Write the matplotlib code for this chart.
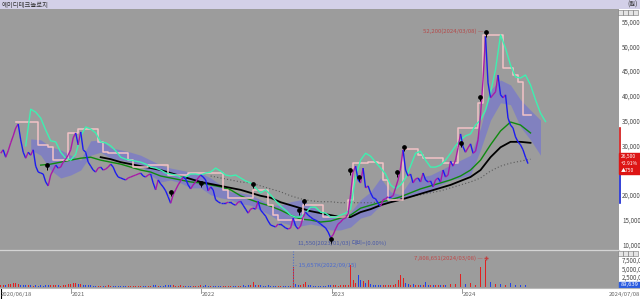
import matplotlib
matplotlib.use('Agg')
import matplotlib.pyplot as plt
import matplotlib.dates as mdates
import numpy as np
import pandas as pd
from matplotlib.collections import LineCollection
from matplotlib.patches import Rectangle
from matplotlib.transforms import blended_transform_factory as btf

plt.rcParams['font.family'] = ['Noto Sans CJK KR', 'DejaVu Sans']

# ---------------- data ----------------
stock_name = '에이디테크놀로지'
unit_label = '(원)'

# weekly closes (thousand KRW), starting 2020-06-18
close_k = [28.6, 29.3, 27.8, 29.1, 30.7, 32.1, 33.7, 34.5, 31.3, 28.8, 27.6,
           28.8, 28.2, 29.3, 26.0, 24.8, 24.6, 24.4, 22.8, 22.0, 24.2,
           25.2, 26.2, 25.6, 25.8, 26.8, 27.4, 28.2, 29.3, 31.7, 32.7,
           30.3, 32.9, 29.3, 28.8, 26.8, 26.0, 25.2, 24.8, 25.6, 25.8,
           25.2, 25.4, 25.8, 26.4, 25.8, 24.6, 23.8, 23.6, 23.4, 23.2,
           23.6, 23.8, 24.0, 24.2, 24.4, 24.6, 24.0, 23.8, 24.2, 24.4,
           22.6, 21.2, 23.2, 22.4, 21.8, 21.0, 19.8, 18.5, 20.2, 21.2,
           22.2, 23.0, 23.8, 23.4, 22.2, 21.4, 22.2, 22.8, 23.6, 24.2,
           23.8, 23.2, 21.0, 21.8, 21.2, 19.2, 18.8, 18.5, 18.5, 18.5,
           18.7, 18.7, 18.3, 18.1, 18.7, 18.9, 18.1, 17.3, 16.5, 17.3,
           17.5, 17.3, 18.9, 17.1, 16.5, 15.9, 14.9, 14.1, 13.9, 13.7,
           14.3, 14.3, 13.9, 13.5, 13.3, 13.5, 15.5, 13.9, 13.3, 13.9,
           15.7, 16.7, 16.1, 15.7, 15.3, 15.1, 14.7, 14.3, 13.9, 13.5,
           12.7, 11.55, 12.1, 13.3, 14.3, 14.7, 15.3, 15.5, 16.3, 20.2,
           24.8, 26.0, 23.2, 22.6, 25.6, 21.6, 22.0, 20.6, 19.6, 19.4,
           18.5, 17.9, 19.2, 19.4, 19.8, 19.8, 20.0, 21.6, 23.2, 25.6,
           29.3, 25.2, 24.0, 24.4, 22.6, 23.4, 23.6, 22.8, 24.6, 23.2,
           22.8, 23.0, 21.8, 23.2, 23.6, 22.8, 25.2, 23.8, 24.2, 27.0,
           26.0, 27.2, 29.7, 32.5, 29.9, 28.8, 29.7, 30.5, 28.6, 29.0,
           31.3, 36.3, 43.4, 52.2, 42.8, 39.8, 40.4, 41.0, 44.4, 40.4,
           39.8, 40.4, 35.7, 34.3, 33.7, 31.9, 30.9, 30.3, 29.3, 27.8, 26.5]

# weekly volume (thousand shares)
volume_k = [400, 300, 350, 600, 800, 900, 1100, 700, 500, 400, 300,
            300, 350, 250, 300, 250, 300, 250, 500, 400, 350,
            300, 350, 300, 250, 300, 400, 800, 700, 900, 1000,
            800, 600, 500, 400, 300, 300, 250, 250, 200, 250,
            200, 250, 300, 250, 200, 200, 200, 250, 200, 200,
            200, 250, 200, 200, 200, 250, 200, 200, 200, 250,
            300, 350, 250, 250, 200, 300, 400, 500, 300, 250,
            250, 300, 250, 200, 200, 250, 200, 200, 250, 300,
            250, 300, 250, 200, 250, 200, 200, 200, 200, 200,
            200, 200, 250, 200, 200, 250, 300, 250, 300, 350,
            1400, 300, 350, 300, 250, 250, 300, 250, 200, 200,
            200, 250, 200, 200, 250, 250, 5800, 600, 400, 350,
            800, 1400, 400, 300, 250, 250, 200, 250, 200, 250,
            300, 400, 350, 300, 250, 300, 300, 350, 500, 6300,
            1900, 900, 3400, 2000, 1500, 900, 2000, 700, 500, 400,
            400, 350, 300, 300, 350, 400, 500, 700, 1900, 3400,
            2500, 1000, 700, 500, 600, 450, 400, 500, 450, 1400,
            500, 400, 350, 400, 350, 300, 350, 500, 1100, 700,
            500, 600, 800, 3600, 1200, 700, 600, 1100, 500, 450,
            600, 5800, 2500, 7809, 2900, 1400, 900, 800, 700, 600,
            500, 450, 500, 1000, 600, 500, 400, 400, 350, 300, 300]

# mint line (biweekly, from 2020-08-27)
mint_k = [30.1, 37.5, 36.9, 35.7, 33.3, 31.1, 30.9, 28.8, 27.6, 27.2,
          28.4, 32.1, 33.9, 33.5, 32.7, 30.9, 30.7, 30.1, 29.1, 27.8,
          27.4, 27.2, 27.0, 26.8, 26.4, 25.8, 25.6, 25.2, 24.6, 24.4,
          24.2, 23.8, 23.8, 24.4, 24.4, 24.2, 24.6, 24.8, 25.6, 25.0,
          24.2, 24.0, 24.2, 23.6, 23.0, 22.6, 21.6, 20.6, 21.2, 20.2,
          19.0, 17.9, 17.1, 16.1, 15.7, 15.7, 16.5, 17.7, 17.7, 16.7,
          16.5, 15.7, 15.7, 16.1, 16.5, 17.3, 23.8, 27.2, 28.6, 28.0,
          26.8, 25.6, 24.4, 22.2, 21.4, 22.2, 23.6, 26.0, 28.6, 29.0,
          27.2, 25.8, 25.8, 26.2, 27.2, 28.6, 30.1, 31.3, 32.1, 32.5,
          34.3, 35.3, 37.3, 40.8, 45.5, 52.5, 49.8, 46.4, 44.0, 43.8,
          44.4, 42.4, 39.4, 36.7, 35.0]

# pink step line (biweekly, from 2020-07-30)
pink_k = [34.9, 34.9, 34.9, 34.9, 34.9, 30.3, 30.3, 29.9, 27.2, 27.2,
          27.2, 32.7, 32.7, 33.5, 33.5, 33.5, 33.5, 30.9, 28.8, 28.6,
          28.6, 28.6, 28.6, 27.2, 25.8, 25.8, 25.8, 26.2, 26.2, 26.2,
          26.2, 24.2, 24.2, 24.2, 24.2, 24.6, 24.6, 24.6, 24.6, 24.6,
          24.6, 24.6, 21.2, 19.6, 19.6, 19.6, 19.6, 19.6, 21.2, 21.2,
          21.2, 18.1, 16.1, 15.1, 15.1, 15.1, 15.1, 15.1, 18.1, 18.1,
          18.1, 18.1, 15.7, 15.7, 15.7, 15.7, 15.7, 19.2, 26.6, 26.6,
          26.6, 26.8, 26.8, 26.6, 23.2, 19.2, 19.2, 19.2, 29.4, 29.4,
          29.4, 28.2, 27.6, 27.6, 27.6, 27.6, 26.6, 26.6, 26.6, 33.7,
          33.7, 33.7, 33.7, 38.7, 52.5, 52.5, 52.5, 52.5, 45.9, 45.9,
          44.4, 43.0, 36.3, 36.3]

# moving averages (every 4 weeks)
ma_green_k = [26.2, 26.4, 26.8, 27.2, 27.6, 27.8, 27.2, 26.8, 26.4, 25.8,
              25.2, 24.8, 24.0, 23.6, 23.2, 22.8, 22.6, 22.2, 21.8, 21.2,
              20.0, 19.2, 18.5, 17.9, 17.1, 16.1, 15.3, 15.1, 14.7, 14.9,
              15.5, 16.1, 17.5, 18.1, 18.7, 19.2, 19.8, 20.6, 21.4, 22.0,
              22.6, 23.2, 24.0, 25.2, 27.2, 30.3, 33.1, 34.9, 34.3, 32.7]
ma_black_k = [27.8, 27.4, 26.8, 26.4, 26.0, 25.6, 25.2, 24.6, 24.0, 23.4,
              22.8, 22.4, 22.0, 21.6, 21.2, 20.6, 20.0, 19.6, 18.7, 18.1,
              17.5, 16.9, 16.5, 16.1, 15.7, 15.7, 16.7, 17.3, 18.1, 18.7,
              19.2, 19.8, 20.4, 21.0, 21.6, 22.2, 23.0, 23.8, 25.2, 27.8,
              29.8, 30.9, 30.9, 30.7]
ma_gray_k = [24.0, 23.6, 23.2, 22.8, 22.6, 22.0, 21.4, 20.8, 20.0, 19.4,
             19.0, 18.8, 18.8, 18.6, 18.6, 18.6, 18.6, 18.8, 19.0, 19.4,
             19.8, 20.2, 20.6, 21.0, 21.6, 22.2, 22.8, 23.6, 25.0, 26.0,
             26.6, 27.0, 27.4]

# cloud band (every 4 weeks, from 2020-09-10)
cloud_up_k = [31.5, 31.3, 29.9, 29.3, 28.2, 27.2, 31.1, 31.3, 29.7, 29.3,
              28.8, 28.2, 27.2, 26.2, 25.6, 25.2, 24.8, 24.6, 23.6, 22.2,
              20.8, 20.6, 20.2, 19.2, 18.1, 18.1, 18.8, 19.2, 18.1, 16.7,
              15.9, 15.5, 16.7, 19.2, 20.8, 23.6, 20.8, 20.2, 23.2, 23.8,
              24.2, 25.2, 26.2, 27.2, 28.2, 33.7, 41.4, 43.4, 42.4, 39.4,
              37.3, 35.3]
cloud_lo_k = [29.3, 28.2, 25.2, 23.6, 24.2, 25.2, 28.2, 28.8, 27.6, 27.2,
              26.8, 26.2, 24.2, 22.8, 23.2, 22.6, 21.6, 21.6, 20.2, 19.6,
              19.2, 18.4, 18.1, 17.1, 16.1, 14.7, 14.1, 13.9, 14.3, 13.9,
              13.1, 13.1, 13.7, 15.5, 16.1, 18.1, 18.7, 19.2, 20.0, 20.6,
              20.8, 22.2, 23.2, 23.6, 24.2, 29.3, 35.3, 38.8, 38.4, 33.9,
              31.3, 28.2]

# signal markers
signal_dates = ['2020-10-25', '2021-10-08', '2021-12-31', '2022-05-26', '2022-10-02',
                '2022-10-16', '2022-12-30', '2023-02-21', '2023-03-19', '2023-07-03',
                '2023-07-23', '2023-12-29', '2024-02-20', '2024-03-08']
signal_vals_k = [26.2, 20.8, 22.6, 22.4, 17.1, 19.0, 11.2, 25.2, 23.8, 24.8,
                 29.9, 30.7, 40.0, 53.0]

price_ticks = [10000, 15000, 20000, 25000, 30000, 35000, 40000, 45000, 50000, 55000]
vol_ticks = [2500000, 5000000, 7500000]
year_ticks = ['2021-01-01', '2022-01-01', '2023-01-01', '2024-01-01']
year_labels = ['2021', '2022', '2023', '2024']
first_date_label = '2020/06/18'
last_date_label = '2024/07/08'
high_label = '52,200(2024/03/08)'
low_label = '11,550(2023/01/03)'
vol_max_label = '15,657K(2022/09/15)'
vol_peak_label = '7,808,651(2024/03/08)'
last_price = '26,500'
last_change = '+2.91%'
last_diff = '▲750'
last_volume = '89,639'

# ---------------- layout ----------------
W, H = 640, 299
fig = plt.figure(figsize=(W / 100, H / 100), dpi=100)
fig.patch.set_facecolor('white')


def rect(x0, y0, x1, y1):
    return [x0 / W, 1 - y1 / H, (x1 - x0) / W, (y1 - y0) / H]


GRAY = '#9c9c9c'
PX_PER_DAY = 0.357
x0 = mdates.date2num(pd.Timestamp('2020-06-16'))
x_right = x0 + 619 / PX_PER_DAY

# right white panel (behind)
ax_r = fig.add_axes(rect(619, 9, 640, 288))
ax_r.set_zorder(-1)
ax_r.set_facecolor('white')
ax_r.set_xticks([]); ax_r.set_yticks([])
for s in ax_r.spines.values():
    s.set_visible(False)

# title bar
ax_t = fig.add_axes(rect(0, 0, 640, 9))
ax_t.set_xlim(0, W); ax_t.set_ylim(9, 0)
ax_t.axis('off')
ax_t.add_patch(Rectangle((0, 0), W, 9, color='#d3d0e8'))
ax_t.text(2, 4.7, stock_name, fontsize=4.6, color='#333333', va='center', ha='left')
ax_t.text(627, 4.7, unit_label, fontsize=4.6, color='#333333', va='center', ha='left')

# price panel
ax = fig.add_axes(rect(0, 9, 619, 250))
ax.set_facecolor(GRAY)
for s in ax.spines.values():
    s.set_visible(False)
ax.set_xticks([]); ax.set_yticks([])
ax.set_xlim(x0, x_right)
ax.set_ylim(10 - 4.7 / 4.95, 10 + 236.3 / 4.95)

wk = pd.date_range('2020-06-18', periods=len(close_k), freq='7D')
wkn = mdates.date2num(wk)
mint_d = mdates.date2num(pd.date_range('2020-08-27', periods=len(mint_k), freq='14D'))
pink_d = mdates.date2num(pd.date_range('2020-07-30', periods=len(pink_k), freq='14D'))
green_d = mdates.date2num(pd.date_range('2020-10-08', periods=len(ma_green_k), freq='28D'))
black_d = mdates.date2num(pd.date_range('2021-03-25', periods=len(ma_black_k), freq='28D'))
gray_d = mdates.date2num(pd.date_range('2022-01-27', periods=len(ma_gray_k), freq='28D'))
cloud_d = mdates.date2num(pd.date_range('2020-09-10', periods=len(cloud_up_k), freq='28D'))

ax.fill_between(cloud_d, cloud_lo_k, cloud_up_k, color='#6f70d8', alpha=0.6, lw=0, zorder=1)
ax.plot(gray_d, ma_gray_k, color='#5a5a5a', lw=0.8, ls=(0, (1, 2)), zorder=2)
ax.plot(green_d, ma_green_k, color='#0f8a0f', lw=1.0, zorder=3)
ax.plot(black_d, ma_black_k, color='#000000', lw=1.3, zorder=3)
ax.plot(pink_d, pink_k, color='#f3c3c6', lw=1.1, drawstyle='steps-mid', zorder=4)
ax.plot(mint_d, mint_k, color='#3ef0b0', lw=1.0, zorder=4)

c = np.array(close_k)
pts = np.column_stack([wkn, c])
segs = np.stack([pts[:-1], pts[1:]], axis=1)
cols = ['#a81aa8' if c[i + 1] > c[i] else '#1c1cf0' for i in range(len(c) - 1)]
ax.add_collection(LineCollection(segs, colors=cols, linewidths=1.0, zorder=5))

sd = mdates.date2num(pd.to_datetime(signal_dates))
ax.plot(sd, np.array(signal_vals_k) - 0.5, ls='none', marker='|', ms=3.0, mew=0.7, color='black', zorder=6)
ax.plot(sd, signal_vals_k, ls='none', marker='o', ms=2.4, color='black', zorder=6)

# high / low labels
hi_d = mdates.date2num(pd.Timestamp('2024-03-08'))
ax.annotate(high_label + ' —', xy=(hi_d, 53.2), xytext=(-2, 0), textcoords='offset points',
            fontsize=4.3, color='#b44a4a', ha='right', va='center', zorder=7)
lo_d = mdates.date2num(pd.Timestamp('2022-09-27'))
ax.text(lo_d, 10.5, low_label, fontsize=4.3, color='#4a5aa8', ha='left', va='center', zorder=7)
ax.text(mdates.date2num(pd.Timestamp('2023-02-26')), 10.5, '대비=(0.00%)', fontsize=4.3,
        color='#4a5aa8', ha='left', va='center', zorder=7)

# right price labels (the one under the current-price box is hidden, as in the original)
tr = btf(ax.transAxes, ax.transData)
box_lo, box_hi = 24.5, 28.6
for v in price_ticks:
    if box_lo - 0.8 <= v / 1000 <= box_hi + 0.8:
        continue
    ax.text(622 / 619, v / 1000, f'{v:,}', transform=tr, fontsize=4.5, color='#4a4a4a',
            ha='left', va='center', clip_on=False)
ax.plot([1.0015, 1.0015], [33.7, 28.3], transform=tr, color='#d01010', lw=1.2, clip_on=False)
ax.plot([1.0015, 1.0015], [24.2, 18.5], transform=tr, color='#1020d0', lw=1.2, clip_on=False)
ax.add_patch(Rectangle((1.0, box_lo), 21 / 619, box_hi - box_lo, transform=tr, color='#dd1515',
                       clip_on=False, zorder=8))
for i, s in enumerate([last_price, last_change, last_diff]):
    ax.text(621 / 619, 27.95 - i * 1.4, s, transform=tr, fontsize=3.6, color='white',
            ha='left', va='center', clip_on=False, zorder=9)

# volume panel
axv = fig.add_axes(rect(0, 250.5, 619, 288))
axv.set_facecolor(GRAY)
for s in axv.spines.values():
    s.set_visible(False)
axv.set_xticks([]); axv.set_yticks([])
axv.set_xlim(x0, x_right)
axv.set_ylim(-440, 10590)
vcols = ['#e02020'] + ['#e02020' if c[i] >= c[i - 1] else '#2040e8' for i in range(1, len(c))]
axv.bar(wkn, volume_k, width=2.6, color=vcols, lw=0, zorder=2)
vm_d = mdates.date2num(pd.Timestamp('2022-09-15'))
axv.axvline(vm_d, color='#5070c8', lw=0.8, ls=(0, (1, 1.5)), zorder=3)
axv.text(vm_d + 6, 6300, '- ' + vol_max_label, fontsize=4.3, color='#4a6ad0', ha='left', va='center')
vp_d = mdates.date2num(pd.Timestamp('2024-03-08'))
axv.plot([vp_d], [8400], marker='+', ms=3, color='#c04040')
axv.annotate(vol_peak_label + ' —', xy=(vp_d, 8400), xytext=(-2, 0), textcoords='offset points',
             fontsize=4.3, color='#c04848', ha='right', va='center')
trv = btf(axv.transAxes, axv.transData)
for v in vol_ticks:
    axv.text(622 / 619, v / 1000, f'{v:,}', transform=trv, fontsize=4.5, color='#4a4a4a',
             ha='left', va='center', clip_on=False)
axv.add_patch(Rectangle((1.0, -440), 21 / 619, 1800, transform=trv, color='#2a5be0', clip_on=False, zorder=8))
axv.text(621 / 619, 480, last_volume, transform=trv, fontsize=4.2, color='white',
         ha='left', va='center', clip_on=False, zorder=9)

# separator lines and buttons
fig.add_artist(plt.Line2D([0, 619 / W], [1 - 250 / H, 1 - 250 / H], color='#d4d4d4', lw=0.9))
for yb in (10, 251):
    for xb in (618, 623, 628, 633):
        fig.add_artist(Rectangle((xb / W, 1 - (yb + 5) / H), 4.5 / W, 5 / H,
                                 facecolor='#e4e4e4', edgecolor='#707070', lw=0.4))

# date axis
axd = fig.add_axes(rect(0, 288, 640, 299))
axd.set_facecolor('white')
for s in axd.spines.values():
    s.set_visible(False)
axd.spines['top'].set_visible(True)
axd.spines['top'].set_color('#b8b8b8')
axd.set_xticks([]); axd.set_yticks([])
axd.set_xlim(x0, x0 + 640 / PX_PER_DAY)
axd.set_ylim(0, 1)
axd.text(x0 + 1 / PX_PER_DAY, 0.45, first_date_label, fontsize=4.3, color='#666666', ha='left', va='center')
axd.axvline(x0 + 0.5 / PX_PER_DAY, color='black', lw=0.8)
for d, lab in zip(year_ticks, year_labels):
    dn = mdates.date2num(pd.Timestamp(d))
    axd.plot([dn, dn], [0.55, 1.0], color='#888888', lw=0.6)
    axd.text(dn + 0.5 / PX_PER_DAY, 0.45, lab, fontsize=4.3, color='#666666', ha='left', va='center')
axd.text(1.0, 0.45, last_date_label, transform=axd.transAxes, fontsize=4.3, color='#666666',
         ha='right', va='center')

fig.savefig('out.png', dpi=100, facecolor='white')
